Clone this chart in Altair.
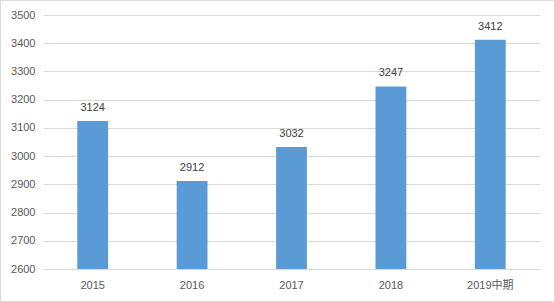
import altair as alt
import pandas as pd

years = ["2015", "2016", "2017", "2018", "2019中期"]
values = [3124, 2912, 3032, 3247, 3412]
y_ticks = [2600, 2700, 2800, 2900, 3000, 3100, 3200, 3300, 3400, 3500]

df = pd.DataFrame({"year": years, "value": values})

FONT = "Liberation Sans, Noto Sans CJK SC, sans-serif"

yscale = alt.Scale(domain=[2600, 3500], nice=False, zero=False)
yaxis = alt.Axis(values=y_ticks, format="d", ticks=False, domain=False,
                 labelPadding=8, labelFontSize=11, labelColor="#595959",
                 labelFont=FONT, gridColor="#d9d9d9", gridWidth=1)

base = alt.Chart(df).encode(
    x=alt.X("year:N", sort=years, title=None,
            scale=alt.Scale(paddingInner=0.69, paddingOuter=0.345),
            axis=alt.Axis(labelAngle=0, ticks=False, domain=False, labelPadding=10,
                          labelFontSize=11, labelColor="#595959", labelFont=FONT,
                          grid=False)),
)

bars = base.mark_bar(color="#5B9BD5").encode(
    y=alt.Y("value:Q", title=None, scale=yscale, axis=yaxis),
    y2=alt.datum(2600),
)

labels = base.mark_text(baseline="bottom", dy=-8, fontSize=11, color="#404040", font=FONT).encode(
    y=alt.Y("value:Q", title=None, scale=yscale, axis=yaxis),
    text=alt.Text("value:Q", format="d"),
)

border = alt.Chart(df).mark_rect(fill=None, stroke="#d9d9d9", strokeWidth=1).encode(
    x=alt.value(-42.5), x2=alt.value(511.5), y=alt.value(-14.5), y2=alt.value(286.5)
)

chart = alt.layer(bars, labels, border).properties(
    width=497, height=254,
    autosize=alt.AutoSizeParams(type="none"),
    padding={"left": 43, "top": 15, "right": 15, "bottom": 33},
).configure(background="white").configure_view(stroke="transparent", strokeWidth=0)

chart.save("out.html", embed_options={"renderer": "svg", "actions": False})
